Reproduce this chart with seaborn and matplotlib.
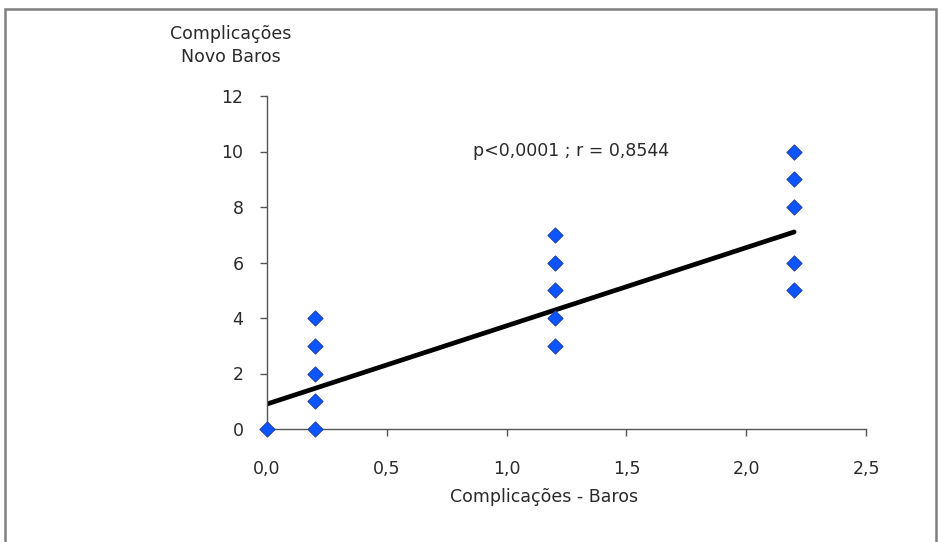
import matplotlib
matplotlib.use("Agg")
import matplotlib.pyplot as plt
import seaborn as sns
import numpy as np
import pandas as pd
from matplotlib.patches import Rectangle
from matplotlib.ticker import FuncFormatter

# Data
x_baros = [0.0, 0.2, 0.2, 0.2, 0.2, 0.2, 1.2, 1.2, 1.2, 1.2, 1.2, 2.2, 2.2, 2.2, 2.2, 2.2]
y_novo = [0, 0, 1, 2, 3, 4, 3, 4, 5, 6, 7, 5, 6, 8, 9, 10]
trend_x = [0.0, 2.2]
trend_y = [0.9, 7.1]
x_ticks = [0.0, 0.5, 1.0, 1.5, 2.0, 2.5]
y_ticks = [0, 2, 4, 6, 8, 10, 12]
annotation = "p<0,0001 ; r = 0,8544"
xlabel = "Complicações - Baros"
ylabel_lines = ["Complicações", "Novo Baros"]

sns.set_theme(style="white")
plt.rcParams['font.family'] = ['DejaVu Sans']

FS = 12.5
TXT = "#2a2a2a"

fig = plt.figure(figsize=(9.38, 5.42), dpi=100)
ax = fig.add_axes([267/938, 1-429/542, (866-267)/938, (429-96)/542])

df = pd.DataFrame({"x": x_baros, "y": y_novo})
sns.lineplot(x=trend_x, y=trend_y, ax=ax, color="black", linewidth=3.4, zorder=2)
sns.scatterplot(data=df, x="x", y="y", ax=ax, marker="D", s=60,
                color="#0a55ff", edgecolor="#1f3fa8", linewidth=0.7,
                zorder=3, clip_on=False)

ax.set_xlim(0, 2.5)
ax.set_ylim(0, 12)
ax.set_xticks(x_ticks)
ax.set_yticks(y_ticks)
ax.xaxis.set_major_formatter(FuncFormatter(lambda v, p: f"{v:.1f}".replace(".", ",")))
ax.yaxis.set_major_formatter(FuncFormatter(lambda v, p: f"{int(v)}"))
for s in ["top", "right"]:
    ax.spines[s].set_visible(False)
for s in ["left", "bottom"]:
    ax.spines[s].set_color("#555555")
    ax.spines[s].set_linewidth(1.0)
ax.tick_params(axis="both", which="major", direction="out", length=5, width=1.0,
               color="#555555", labelsize=FS, labelcolor=TXT,
               left=True, bottom=True)
ax.tick_params(axis="x", pad=17)
ax.tick_params(axis="y", pad=12)
ax.set_xlabel("")
ax.set_ylabel("")

fig.text(544/938, 1-497/542, xlabel, ha="center", va="center", fontsize=FS, color=TXT)
fig.text(231/938, 1-34/542, ylabel_lines[0], ha="center", va="center", fontsize=FS, color=TXT)
fig.text(231/938, 1-57/542, ylabel_lines[1], ha="center", va="center", fontsize=FS, color=TXT)
ax.text(0.86, 10, annotation, ha="left", va="center", fontsize=FS, color=TXT)

fig.patches.append(Rectangle((5/938, -0.1), (936-5)/938, 1.1 - 9/542, transform=fig.transFigure,
                             fill=False, edgecolor="#808080", linewidth=1.8, zorder=0))

fig.savefig("out.png", dpi=100)
